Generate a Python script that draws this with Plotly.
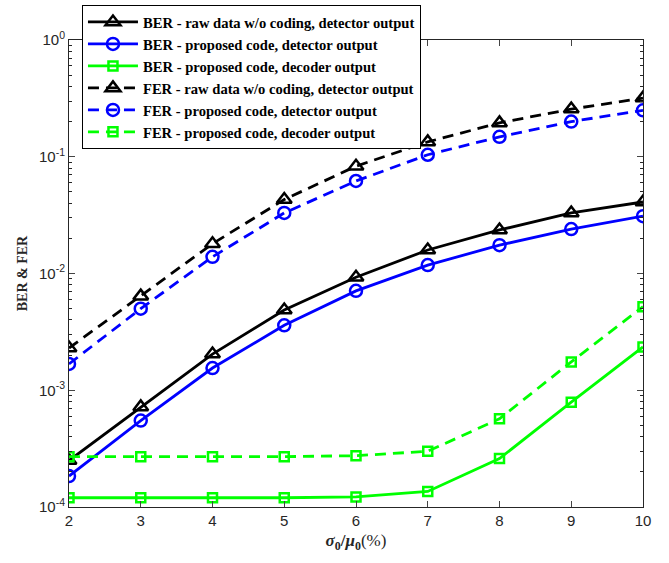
import plotly.graph_objects as go
import numpy as np

x = [2, 3, 4, 5, 6, 7, 8, 9, 10]
ber_raw = [2.5e-4, 7.2e-4, 2.04e-3, 4.86e-3, 9.3e-3, 0.0159, 0.0236, 0.033, 0.041]
ber_prop_det = [1.84e-4, 5.5e-4, 1.55e-3, 3.6e-3, 7.1e-3, 0.0118, 0.0175, 0.024, 0.031]
ber_prop_dec = [1.2e-4, 1.2e-4, 1.2e-4, 1.2e-4, 1.22e-4, 1.36e-4, 2.6e-4, 7.9e-4, 2.35e-3]
fer_raw = [2.3e-3, 6.4e-3, 0.018, 0.043, 0.083, 0.134, 0.195, 0.256, 0.318]
fer_prop_det = [1.68e-3, 5.0e-3, 0.0139, 0.033, 0.062, 0.104, 0.148, 0.2, 0.25]
fer_prop_dec = [2.7e-4, 2.7e-4, 2.7e-4, 2.7e-4, 2.75e-4, 3.0e-4, 5.7e-4, 1.75e-3, 5.2e-3]

names = [
    "BER - raw data w/o coding, detector output",
    "BER - proposed code, detector output",
    "BER - proposed code, decoder output",
    "FER - raw data w/o coding, detector output",
    "FER - proposed code, detector output",
    "FER - proposed code, decoder output",
]
series = [ber_raw, ber_prop_det, ber_prop_dec, fer_raw, fer_prop_det, fer_prop_dec]
colors = ["#000000", "#0000FF", "#00FF00"] * 2
symbols = ["triangle-up-open", "circle-open", "square-open"] * 2
sizes = [13, 12, 9] * 2
dashes = ["solid"] * 3 + ["11px,7px"] * 3

fig = go.Figure()
for n, s, c, sym, sz, d in zip(names, series, colors, symbols, sizes, dashes):
    fig.add_trace(go.Scatter(
        x=x, y=s, name="<b>" + n + "</b>", mode="lines+markers",
        line=dict(color=c, width=2.8, dash=d),
        marker=dict(symbol=sym, size=sz, color=c, line=dict(color=c, width=2.5)),
    ))

ytv = [1e-4, 1e-3, 1e-2, 1e-1, 1]
ytt = ["10<sup>-4</sup>", "10<sup>-3</sup>", "10<sup>-2</sup>", "10<sup>-1</sup>", "10<sup>0</sup>"]
minor_vals = [m * 10.0 ** e for e in range(-4, 0) for m in range(2, 10)]

axcol = "#262626"
fig.update_layout(
    width=669, height=563,
    margin=dict(l=69, r=26, t=40, b=56, autoexpand=False),
    paper_bgcolor="white", plot_bgcolor="white",
    showlegend=True,
    legend=dict(
        x=0.0226, y=1.075, xanchor="left", yanchor="top",
        bgcolor="white", bordercolor="#000000", borderwidth=1,
        font=dict(family="Liberation Serif", size=14.6, color="black"),
        tracegroupgap=0, itemwidth=50,
    ),
    xaxis=dict(
        range=[2, 10], tickvals=x, ticks="inside", ticklen=6,
        showline=True, linecolor=axcol, linewidth=1, mirror="allticks",
        showgrid=False, zeroline=False,
        tickfont=dict(family="Liberation Sans", size=15, color=axcol),
        title=dict(text="<b><i>σ</i><sub>0</sub>/<i>μ</i><sub>0</sub></b>(%)",
                   font=dict(family="Liberation Serif", size=17, color=axcol), standoff=6),
    ),
    yaxis=dict(
        type="log", range=[-4, 0], tickvals=ytv, ticktext=ytt, ticks="inside", ticklen=6,
        showline=True, linecolor=axcol, linewidth=1, mirror="allticks",
        showgrid=False, zeroline=False,
        minor=dict(tickmode="array", tickvals=minor_vals, ticks="inside", ticklen=3,
                   tickcolor=axcol, showgrid=False),
        tickfont=dict(family="Liberation Sans", size=15, color=axcol),
        title=dict(text="<b>BER & FER</b>",
                   font=dict(family="Liberation Serif", size=14, color=axcol), standoff=8),
    ),
)

fig.write_html("out.html")
